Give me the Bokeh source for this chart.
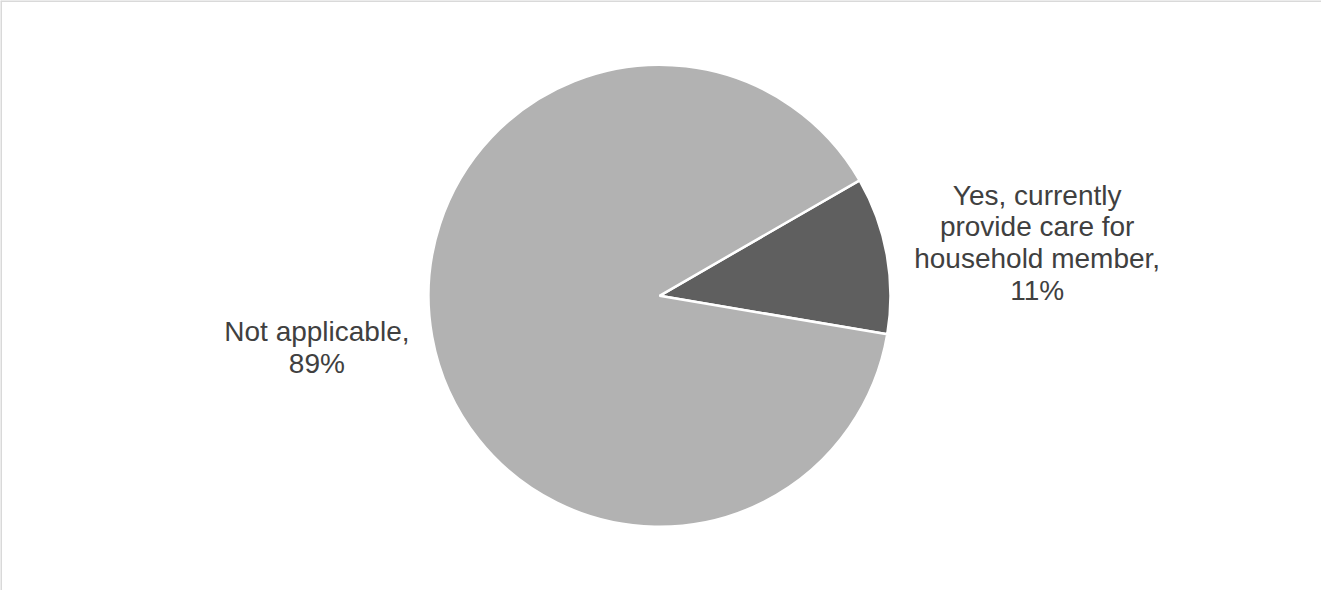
import math
from bokeh.plotting import figure
from bokeh.models import ColumnDataSource, Span
from bokeh.core.properties import value
from bokeh.embed import file_html
from bokeh.resources import INLINE

categories = ["Yes, currently\nprovide care for\nhousehold member,", "Not applicable,"]
percents = [11, 89]
colors = ["#5f5f5f", "#b2b2b2"]
label_dist = [1.651, 1.50]     # label distance from centre, in radii
label_turn = [-2.2, -1.6]      # small angular nudge of each label, degrees

W, H = 1321, 590
cx, cy, r = 659, 294.7, 231
first_slice_deg = 60  # clockwise from 12 o'clock

p = figure(width=W, height=H, x_range=(0, W), y_range=(0, H),
           output_backend="svg", toolbar_location=None, min_border=0,
           background_fill_color="white", border_fill_color="white")
p.axis.visible = False
p.grid.visible = False
p.outline_line_color = None

total = sum(percents)
start = math.radians(90 - first_slice_deg)
starts, ends, lx, ly, texts = [], [], [], [], []
for cat, v, k, t in zip(categories, percents, label_dist, label_turn):
    sweep = 2 * math.pi * v / total
    end = start - sweep
    starts.append(start)
    ends.append(end)
    mid = (start + end) / 2 + math.radians(t)
    lx.append(cx + k * r * math.cos(mid))
    ly.append(cy + k * r * math.sin(mid))
    texts.append(f"{cat}\n{v}%")
    start = end

src = ColumnDataSource(dict(start=starts, end=ends, color=colors,
                            x=[cx] * len(percents), y=[cy] * len(percents)))
p.wedge(x="x", y="y", radius=r, start_angle="start", end_angle="end",
        direction="clock", fill_color="color", line_color="white",
        line_width=2.5, source=src)

lsrc = ColumnDataSource(dict(x=lx, y=ly, text=texts))
p.text(x="x", y="y", text="text", source=lsrc, text_align="center",
       text_baseline="middle", text_font=value("Liberation Sans"),
       text_font_size="28px", text_color="#404040", text_line_height=1.02)

# chart frame (top and left edges visible in the reference)
p.add_layout(Span(location=0.5, dimension="height", line_color="#d9d9d9", line_width=2))
p.add_layout(Span(location=H - 0.5, dimension="width", line_color="#d9d9d9", line_width=2))

open("out.html", "w").write(file_html(p, INLINE))
